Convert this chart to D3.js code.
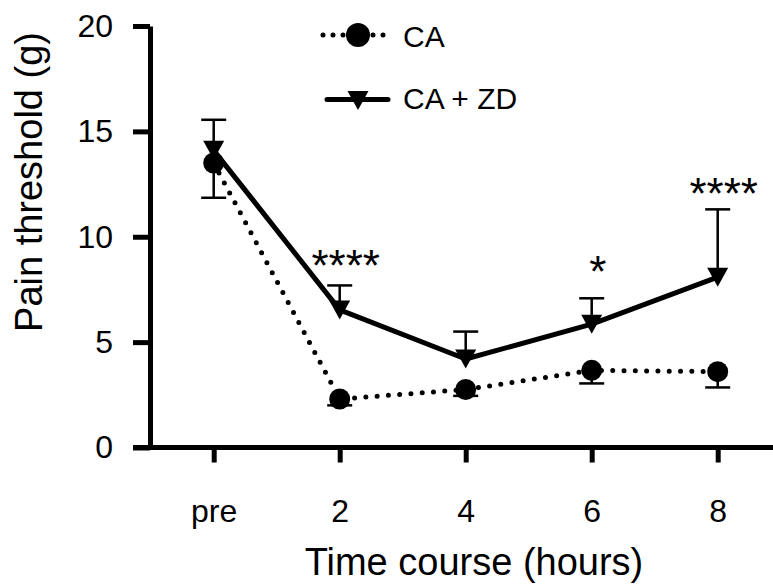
<!DOCTYPE html>
<html>
<head>
<meta charset="utf-8">
<script src="https://cdn.jsdelivr.net/npm/d3@7"></script>
<style>
  body { margin: 0; background: #fff; }
  svg { display: block; font-family: "Liberation Sans", Arial, sans-serif; }
</style>
</head>
<body>
<svg id="chart" width="773" height="584"></svg>
<script>
// --- data ---
const categories = ["pre", "2", "4", "6", "8"];
const caMean = [13.5, 2.3, 2.75, 3.66, 3.6];
const caErr  = [1.65, 0.3, 0.3, 0.62, 0.75];   // drawn downward
const zdMean = [14.1, 6.53, 4.2, 5.85, 8.08];
const zdErr  = [1.45, 1.16, 1.3, 1.23, 3.22];  // drawn upward
const sigMarks = ["", "****", "", "*", "****"];
const sigLevel = [null, 7.9, null, 7.62, 11.3];
const yTicks = [0, 5, 10, 15, 20];
const seriesNames = ["CA", "CA + ZD"];

const svg = d3.select("#chart");
const W = 773;
const FONT = "'Liberation Sans', Arial, sans-serif";

const x = d3.scalePoint().domain(categories).range([213.7, 717.7]);
const y = d3.scaleLinear().domain([0, 20]).range([447.5, 26]);

// triangle pointing down, centred on its bounding box
function tri(cx, cy) {
    const hw = 10.5, hh = 9.5;
    const p = d3.path();
    p.moveTo(cx - hw, cy - hh);
    p.lineTo(cx + hw, cy - hh);
    p.lineTo(cx, cy + hh);
    p.closePath();
    return p.toString();
}

// --- axes ---
const yAxis = d3.axisLeft(y).tickValues(yTicks).tickSize(17).tickSizeOuter(0).tickPadding(20);
const gy = svg.append("g").attr("transform", "translate(150,0)").call(yAxis);
gy.select(".domain").attr("stroke-width", 5);
gy.selectAll(".tick line").attr("stroke-width", 5);
gy.selectAll(".tick text").attr("font-size", 32).attr("fill", "#000").style("font-family", FONT);

const xAxis = d3.axisBottom(x).tickSize(15).tickSizeOuter(0).tickPadding(37);
const gx = svg.append("g").attr("transform", `translate(0,${y(0)})`).call(xAxis);
gx.select(".domain").remove();
gx.append("line").attr("x1", 133).attr("x2", W).attr("stroke", "#000").attr("stroke-width", 5);
gx.selectAll(".tick line").attr("stroke-width", 5);
gx.selectAll(".tick text").attr("font-size", 32).attr("fill", "#000").style("font-family", FONT);

// axis titles
svg.append("text")
    .attr("transform", "translate(42,182) rotate(-90)")
    .attr("text-anchor", "middle")
    .attr("font-size", 38)
    .text("Pain threshold (g)");

svg.append("text")
    .attr("x", 474).attr("y", 575)
    .attr("text-anchor", "middle")
    .attr("font-size", 38)
    .text("Time course (hours)");

// --- lines ---
const idx = d3.range(categories.length);
const line = vals => d3.line().x(i => x(categories[i])).y(i => y(vals[i]))(idx);

svg.append("path").attr("d", line(caMean))
    .attr("fill", "none").attr("stroke", "#000").attr("stroke-width", 5)
    .attr("stroke-linecap", "round").attr("stroke-dasharray", "0 11.3");

svg.append("path").attr("d", line(zdMean))
    .attr("fill", "none").attr("stroke", "#000").attr("stroke-width", 5)
    .attr("stroke-linejoin", "round");

// --- error bars ---
function errorBars(mean, err, dir) {
    const g = svg.append("g").attr("stroke", "#000");
    g.selectAll("line.stem").data(idx).join("line")
        .attr("class", "stem")
        .attr("x1", i => x(categories[i])).attr("x2", i => x(categories[i]))
        .attr("y1", i => y(mean[i])).attr("y2", i => y(mean[i] + dir * err[i]))
        .attr("stroke-width", 2.5);
    g.selectAll("line.cap").data(idx).join("line")
        .attr("class", "cap")
        .attr("x1", i => x(categories[i]) - 12.5).attr("x2", i => x(categories[i]) + 12.5)
        .attr("y1", i => y(mean[i] + dir * err[i])).attr("y2", i => y(mean[i] + dir * err[i]))
        .attr("stroke-width", 2.5);
}
errorBars(caMean, caErr, -1);
errorBars(zdMean, zdErr, 1);

// --- markers ---
svg.selectAll("path.zd").data(idx).join("path")
    .attr("class", "zd")
    .attr("d", i => tri(x(categories[i]), y(zdMean[i])))
    .attr("fill", "#000");

svg.selectAll("circle.ca").data(idx).join("circle")
    .attr("class", "ca")
    .attr("cx", i => x(categories[i])).attr("cy", i => y(caMean[i]))
    .attr("r", 10.5).attr("fill", "#000");

// --- significance stars ---
svg.selectAll("text.sig").data(idx.filter(i => sigMarks[i])).join("text")
    .attr("class", "sig")
    .attr("x", i => x(categories[i]) + 6)
    .attr("y", i => y(sigLevel[i]))
    .attr("text-anchor", "middle")
    .attr("font-size", 44)
    .text(i => sigMarks[i]);

// --- legend ---
const lg = svg.append("g");
lg.append("line").attr("x1", 323).attr("x2", 385).attr("y1", 35).attr("y2", 35)
    .attr("stroke", "#000").attr("stroke-width", 5)
    .attr("stroke-linecap", "round").attr("stroke-dasharray", "0 10");
lg.append("circle").attr("cx", 358).attr("cy", 35).attr("r", 12).attr("fill", "#000");
lg.append("line").attr("x1", 327).attr("x2", 388).attr("y1", 99.5).attr("y2", 99.5)
    .attr("stroke", "#000").attr("stroke-width", 5).attr("stroke-linecap", "round");
lg.append("path").attr("d", tri(358, 100.5)).attr("fill", "#000");
lg.selectAll("text").data(seriesNames).join("text")
    .attr("x", 403)
    .attr("y", (d, i) => i === 0 ? 47 : 109)
    .attr("font-size", 30)
    .text(d => d);
</script>
</body>
</html>
